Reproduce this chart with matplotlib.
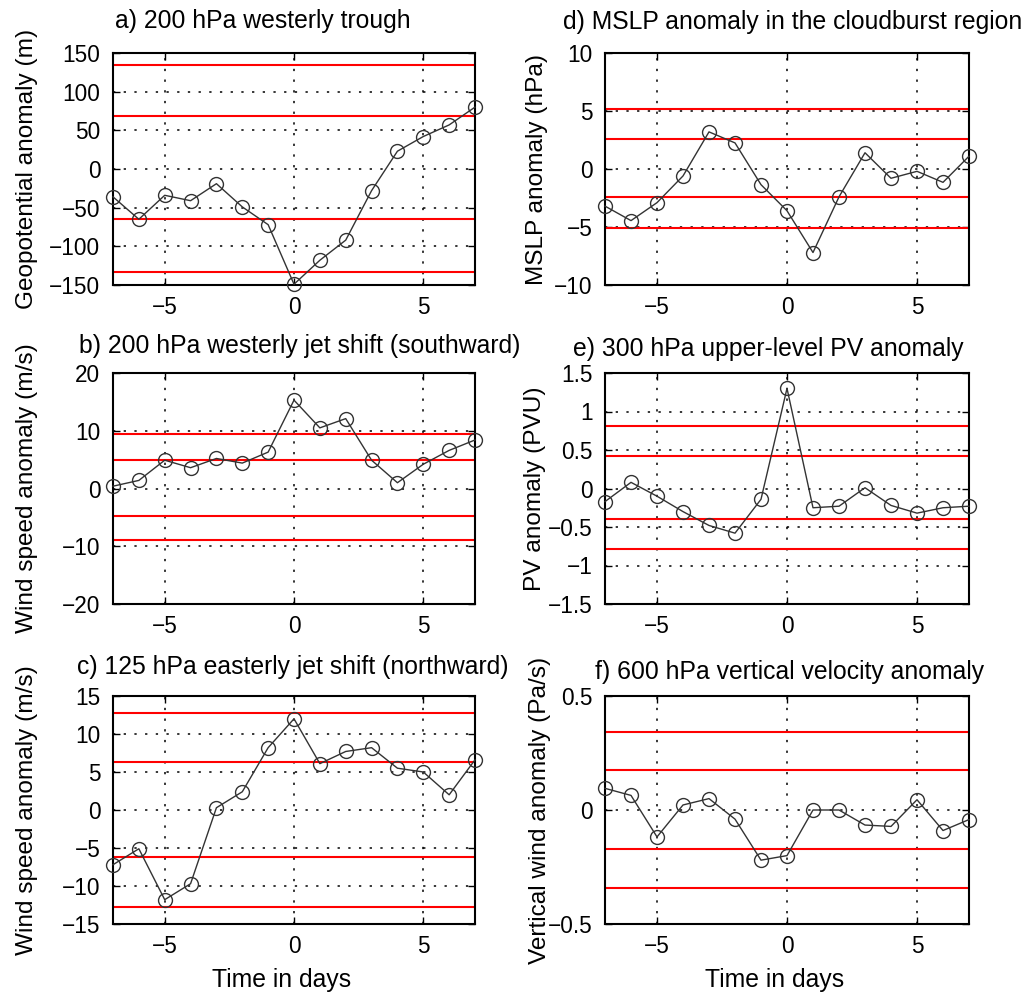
import matplotlib
matplotlib.use("Agg")
import matplotlib.pyplot as plt
import numpy as np

plt.rcParams['font.family'] = ['Liberation Sans', 'DejaVu Sans']

days = list(range(-7, 8))

geo_anom = [-36, -65, -34, -41, -19, -49, -72, -149, -118, -92, -28, 23, 42, 57, 80]
geo_thr = [134, 68, -65, -133]

jet200 = [0.4, 1.4, 4.9, 3.6, 5.2, 4.4, 6.3, 15.3, 10.5, 12.1, 4.9, 1.0, 4.2, 6.6, 8.4]
jet200_thr = [9.4, 4.9, -4.7, -9.0]

jet125 = [-7.2, -5.1, -11.8, -9.7, 0.3, 2.4, 8.2, 12.0, 6.1, 7.7, 8.2, 5.5, 5.0, 2.0, 6.6]
jet125_thr = [12.8, 6.3, -6.2, -12.7]

mslp = [-3.2, -4.45, -2.9, -0.6, 3.2, 2.25, -1.35, -3.6, -7.2, -2.4, 1.4, -0.8, -0.2, -1.15, 1.1]
mslp_thr = [5.2, 2.6, -2.45, -5.05]

pv = [-0.17, 0.08, -0.1, -0.3, -0.48, -0.58, -0.14, 1.3, -0.25, -0.23, 0.01, -0.22, -0.32, -0.25, -0.23]
pv_thr = [0.81, 0.42, -0.39, -0.79]

omega = [0.095, 0.064, -0.118, 0.022, 0.05, -0.04, -0.22, -0.2, 0.0, 0.0, -0.066, -0.072, 0.045, -0.09, -0.042]
omega_thr = [0.34, 0.175, -0.172, -0.34]

titles = ["a) 200 hPa westerly trough",
          "b) 200 hPa westerly jet shift (southward)",
          "c) 125 hPa easterly jet shift (northward)",
          "d) MSLP anomaly in the cloudburst region",
          "e) 300 hPa upper-level PV anomaly",
          "f) 600 hPa vertical velocity anomaly"]
ylabels = ["Geopotential anomaly (m)", "Wind speed anomaly (m/s)", "Wind speed anomaly (m/s)",
           "MSLP anomaly (hPa)", "PV anomaly (PVU)", "Vertical wind anomaly (Pa/s)"]
yticks_list = [[-150, -100, -50, 0, 50, 100, 150],
               [-20, -10, 0, 10, 20],
               [-15, -10, -5, 0, 5, 10, 15],
               [-10, -5, 0, 5, 10],
               [-1.5, -1, -0.5, 0, 0.5, 1, 1.5],
               [-0.5, 0, 0.5]]
ytick_labels = [None, None, None, None,
                ["\u22121.5", "\u22121", "\u22120.5", "0", "0.5", "1", "1.5"],
                ["\u22120.5", "0", "0.5"]]
series = [geo_anom, jet200, jet125, mslp, pv, omega]
thresholds = [geo_thr, jet200_thr, jet125_thr, mslp_thr, pv_thr, omega_thr]
xticks = [-5, 0, 5]

W, H = 1032, 994
fig = plt.figure(figsize=(W / 100, H / 100), dpi=100)

# axes boxes in pixels: (left, top, right, bottom)
boxes = [(113, 53, 475, 285), (113, 373, 475, 604), (113, 696, 475, 924),
         (605, 53, 969, 285), (605, 373, 969, 604), (605, 696, 969, 924)]
title_x = [115, 79, 77, 563, 573, 595]
title_y = [21, 346, 667, 22, 349, 672]
ylabel_x = [27, 27, 27, 537, 535, 540]

for i in range(6):
    l, t, r, b = boxes[i]
    ax = fig.add_axes([l / W, 1 - b / H, (r - l) / W, (b - t) / H])
    yt = yticks_list[i]
    ax.set_xlim(-7, 7)
    ax.set_ylim(yt[0], yt[-1])
    ax.set_xticks(xticks)
    ax.set_xticklabels(["\u22125", "0", "5"])
    ax.set_yticks(yt)
    if ytick_labels[i] is not None:
        ax.set_yticklabels(ytick_labels[i])
    else:
        ax.set_yticklabels([("\u2212" + str(abs(v))) if v < 0 else str(v) for v in yt])
    ax.grid(True, color='black', linestyle=(0, (1.5, 5.5)), linewidth=1.1)
    ax.set_axisbelow(True)
    for v in thresholds[i]:
        ax.axhline(v, color='red', linewidth=1.5, zorder=2)
    ax.plot(days, series[i], color='0.2', linewidth=1.0, marker='o', markersize=10,
            markerfacecolor='none', markeredgecolor='0.2', markeredgewidth=1.0,
            clip_on=False, zorder=3)
    ax.tick_params(direction='in', length=5, width=1, top=True, right=True,
                   labelsize=16.3, colors='black')
    ax.tick_params(axis='y', pad=9)
    ax.tick_params(axis='x', pad=8)
    for s in ax.spines.values():
        s.set_linewidth(1.5)
    fig.text(title_x[i] / W, 1 - title_y[i] / H, titles[i], fontsize=17.8,
             ha='left', va='center')
    fig.text(ylabel_x[i] / W, 1 - ((t + b) / 2) / H, ylabels[i], fontsize=17.6,
             rotation=90, ha='center', va='center')
    if i in (2, 5):
        fig.text(((l + r) / 2 - 12) / W, 1 - 980 / H, "Time in days", fontsize=17.8,
                 ha='center', va='center')

fig.savefig("out.png", dpi=100)
